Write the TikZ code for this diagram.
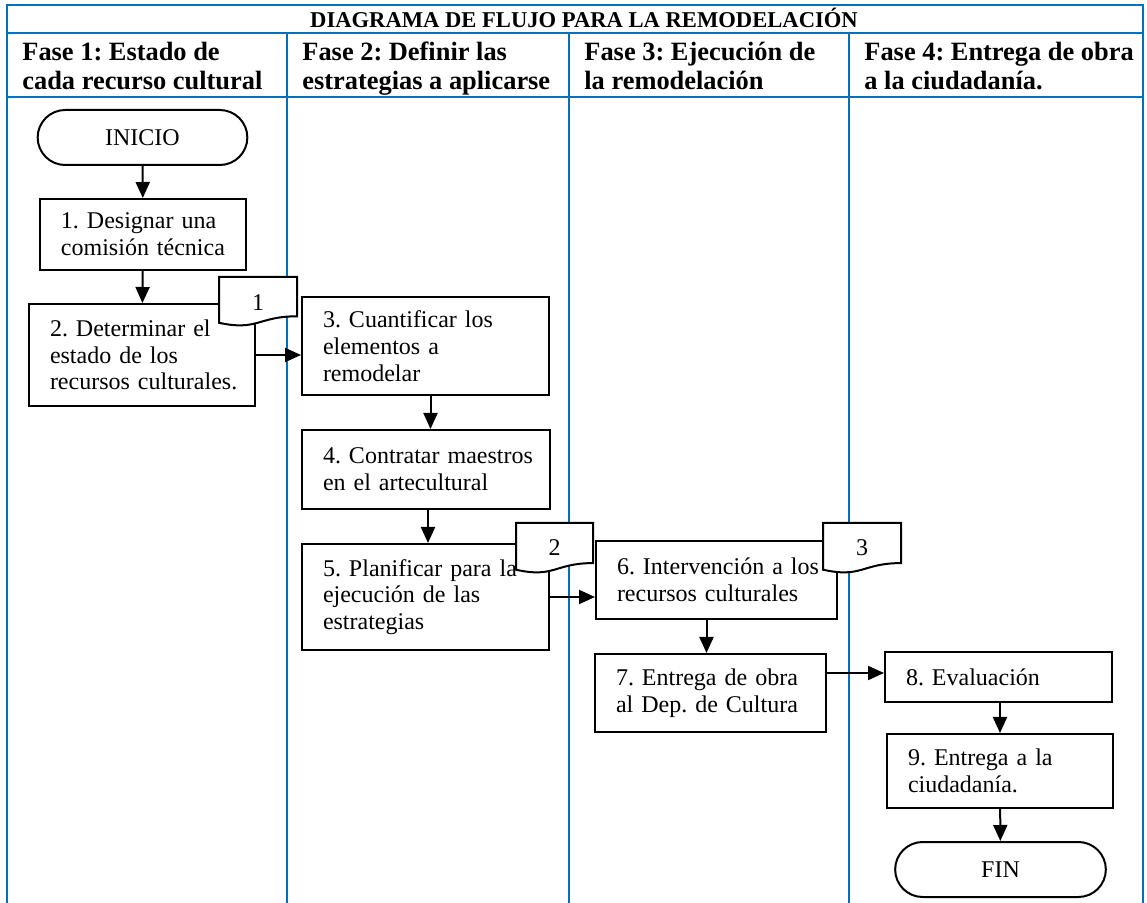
\documentclass[tikz,border=0pt]{standalone}
\usepackage{fontspec}
\setmainfont{Liberation Serif}
\usepackage{xcolor}
\usetikzlibrary{arrows.meta,shapes.misc}
\definecolor{azul}{RGB}{0,112,192}
\frenchspacing

\begin{document}
\begin{tikzpicture}[x=0.5pt,y=-0.5pt,
		carril/.style={draw=azul, line width=1pt},
		caja/.style={draw, line width=1pt, fill=white, rectangle, align=left, inner xsep=10.5pt, inner ysep=0pt, font=\fontsize{12}{13.4}\selectfont, execute at begin node={\rightskip=0pt plus 1fil minus 20pt\relax}},
		terminal/.style={draw, line width=1pt, rounded rectangle, minimum width=111.5pt, minimum height=27.5pt, font=\fontsize{12}{13.4}\selectfont},
		hoja/.style={draw, line width=1pt, fill=white},
		marca/.style={inner sep=0pt, font=\fontsize{12}{13.4}\selectfont},
		fase/.style={anchor=base west, align=left, inner sep=0pt, font=\fontsize{13.2}{14.5}\selectfont\bfseries},
		flecha/.style={line width=1pt, -{Triangle[length=8pt,width=7pt]}}]
			\useasboundingbox (0,0) rectangle (1147,903);
			% carriles
			\draw[carril] (7,903) -- (7,5) -- (1143,5) -- (1143,903);
			\draw[carril] (7,33) -- (1143,33);
			\draw[carril] (7,97) -- (1143,97);
			\draw[carril] (287,33) -- (287,903);
			\draw[carril] (569,33) -- (569,903);
			\draw[carril] (849,33) -- (849,903);
			\node[anchor=base, inner sep=0pt, font=\fontsize{11.3}{13}\selectfont\bfseries] (titulo) at (584,28) {DIAGRAMA DE FLUJO PARA LA REMODELACIÓN};
			\node[fase] (fase1) at (22,90) {Fase 1: Estado de\\cada recurso cultural};
			\node[fase] (fase2) at (302,90) {Fase 2: Definir las\\estrategias a aplicarse};
			\node[fase] (fase3) at (584,90) {Fase 3: Ejecución de\\la remodelación};
			\node[fase] (fase4) at (864,90) {Fase 4: Entrega de obra\\a la ciudadanía.};
			% pasos
			\node[terminal] (inicio) at (142.5,137.5) {INICIO};
			\node[caja, text width=82pt, minimum height=35.5pt] (p1) at (143,234.5) {1. Designar una\\comisión técnica};
			\node[caja, text width=92pt, minimum height=51pt] (p2) at (142,355) {2. Determinar el\\estado de los\\recursos culturales.};
			\node[caja, text width=102.5pt, minimum height=49pt] (p3) at (425.5,346) {3. Cuantificar los\\elementos a\\remodelar};
			\node[caja, text width=103pt, minimum height=39.5pt] (p4) at (426,469.5) {4. Contratar maestros\\en el artecultural};
			\node[caja, text width=102.5pt, minimum height=53pt] (p5) at (425.5,597) {5. Planificar para la\\ejecución de las\\estrategias};
			\node[caja, text width=99.5pt, minimum height=39pt] (p6) at (716.5,580) {6. Intervención a los\\recursos culturales};
			\node[caja, text width=94.5pt, minimum height=39pt] (p7) at (710.5,693) {7. Entrega de obra\\al Dep. de Cultura};
			\node[caja, text width=92.5pt, minimum height=25pt] (p8) at (998.5,677) {8. Evaluación};
			\node[caja, text width=92pt, minimum height=37pt] (p9) at (1000,771) {9. Entrega a la\\ciudadanía.};
			\node[terminal, minimum width=112pt] (fin) at (1000.5,869.5) {FIN};
			% documentos
			\draw[hoja] (219,277) -- (297,277) -- (297,316.3) .. controls (258,316.3) and (258,331.2) .. (219,322.8) -- cycle;
			\node[marca] (d1) at (258,303) {1};
			\draw[hoja] (516,523) -- (593,523) -- (593,563.1) .. controls (554.5,563.1) and (554.5,578.4) .. (516,569.7) -- cycle;
			\node[marca] (d2) at (554.5,548) {2};
			\draw[hoja] (823,523) -- (901,523) -- (901,563.1) .. controls (862,563.1) and (862,578.4) .. (823,569.7) -- cycle;
			\node[marca] (d3) at (862,548) {3};
			% flechas
			\draw[flecha] (inicio) -- (p1);
			\draw[flecha] (p1) -- (p2);
			\draw[flecha] (p2.east) -- (p2.east -| p3.west);
			\draw[flecha] ([xshift=2.5pt]p3.south) -- ([xshift=2.5pt]p3.south |- p4.north);
			\draw[flecha] ([xshift=1pt]p4.south) -- ([xshift=1pt]p4.south |- p5.north);
			\draw[flecha] (p5.east) -- (p5.east -| p6.west);
			\draw[flecha] ([xshift=-5pt]p6.south) -- ([xshift=-5pt]p6.south |- p7.north);
			\draw[flecha] ([yshift=2pt]p7.east |- p8.west) -- ([yshift=2pt]p8.west);
			\draw[flecha] (p9.north |- p8.south) -- (p9.north);
			\draw[flecha] (p9) -- (fin);
		\end{tikzpicture}
\end{document}
